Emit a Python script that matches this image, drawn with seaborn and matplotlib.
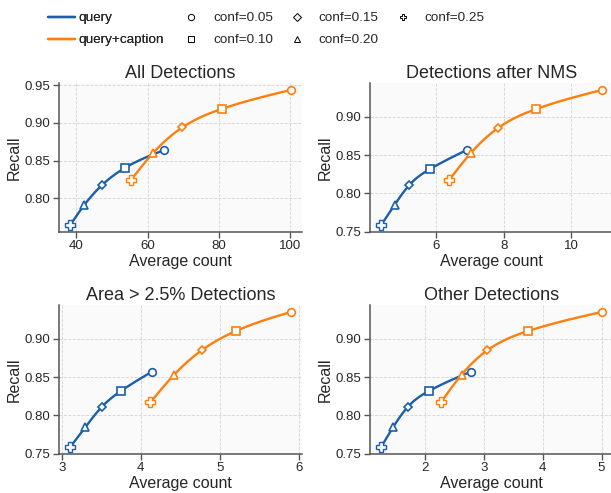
import numpy as np
import pandas as pd
import matplotlib
matplotlib.use("Agg")
import matplotlib.pyplot as plt
from matplotlib.lines import Line2D
import seaborn as sns

# confidence thresholds and their markers
conf = [0.05, 0.10, 0.15, 0.20, 0.25]
conf_markers = ["o", "s", "D", "^", "P"]

titles = ["All Detections", "Detections after NMS",
          "Area > 2.5% Detections", "Other Detections"]

# recall values (same order as conf)
all_q_recall = [0.864, 0.840, 0.818, 0.791, 0.764]
all_c_recall = [0.944, 0.919, 0.894, 0.860, 0.8235]
sub_q_recall = [0.857, 0.832, 0.811, 0.785, 0.7585]
sub_c_recall = [0.935, 0.910, 0.885, 0.853, 0.817]

# average counts
all_q_count = [64.7, 53.5, 47.3, 42.2, 38.2]
all_c_count = [100.3, 81.0, 69.7, 61.5, 55.2]
nms_q_count = [6.92, 5.82, 5.20, 4.76, 4.36]
nms_c_count = [10.92, 8.96, 7.82, 7.03, 6.37]
area_q_count = [4.14, 3.75, 3.505, 3.30, 3.105]
area_c_count = [5.90, 5.20, 4.77, 4.42, 4.12]
other_q_count = [2.78, 2.07, 1.706, 1.46, 1.253]
other_c_count = [5.01, 3.75, 3.06, 2.62, 2.27]

panels = [
    (all_q_count, all_q_recall, all_c_count, all_c_recall),
    (nms_q_count, sub_q_recall, nms_c_count, sub_c_recall),
    (area_q_count, sub_q_recall, area_c_count, sub_c_recall),
    (other_q_count, sub_q_recall, other_c_count, sub_c_recall),
]

blue = "#1b5fa8"
orange = "#ff7f0e"


def smooth(x, y, n=200):
    # natural cubic spline through the points, only for drawing the curve
    order = np.argsort(x)
    x = np.asarray(x, float)[order]
    y = np.asarray(y, float)[order]
    k = len(x)
    h = np.diff(x)
    A = np.zeros((k, k))
    b = np.zeros(k)
    A[0, 0] = A[-1, -1] = 1
    for i in range(1, k - 1):
        A[i, i - 1] = h[i - 1]
        A[i, i] = 2 * (h[i - 1] + h[i])
        A[i, i + 1] = h[i]
        b[i] = 6 * ((y[i + 1] - y[i]) / h[i] - (y[i] - y[i - 1]) / h[i - 1])
    M = np.linalg.solve(A, b)
    xs = np.linspace(x[0], x[-1], n)
    j = np.clip(np.searchsorted(x, xs) - 1, 0, k - 2)
    t0 = x[j + 1] - xs
    t1 = xs - x[j]
    hj = h[j]
    ys = (M[j] * t0 ** 3 + M[j + 1] * t1 ** 3) / (6 * hj) \
        + (y[j] / hj - M[j] * hj / 6) * t0 + (y[j + 1] / hj - M[j + 1] * hj / 6) * t1
    return xs, ys


sns.set_theme(style="whitegrid")
plt.rcParams["font.family"] = ["Liberation Sans", "DejaVu Sans"]
plt.rcParams["axes.facecolor"] = "#fafafa"

fig = plt.figure(figsize=(6.11, 4.93), dpi=100)
w, hgt = 0.398, 0.302
rects = [(0.0966, 0.5294, w, hgt), (0.6056, 0.5294, w, hgt),
         (0.0966, 0.0791, w, hgt), (0.6056, 0.0791, w, hgt)]

msizes = {"o": 5.5, "s": 5.5, "D": 4.5, "^": 5.5, "P": 7}

for rect, title, (qx, qy, cx, cy) in zip(rects, titles, panels):
    ax = fig.add_axes(rect)
    for xs_, ys_, col, name in [(qx, qy, blue, "query"), (cx, cy, orange, "query+caption")]:
        sx, sy = smooth(xs_, ys_)
        df = pd.DataFrame({"x": sx, "y": sy})
        sns.lineplot(data=df, x="x", y="y", ax=ax, color=col, lw=1.7, zorder=2)
        for xv, yv, m in zip(xs_, ys_, conf_markers):
            ax.plot(xv, yv, marker=m, ms=msizes[m], mfc="white",
                    mec=col, mew=1.0 if m == "P" else 1.2, ls="none", zorder=3)
    ax.set_title(title, fontsize=13, pad=4)
    ax.set_xlabel("Average count", fontsize=11.5, labelpad=1)
    ax.set_ylabel("Recall", fontsize=11.5, labelpad=2)
    ax.tick_params(labelsize=9.5, length=4, width=1, color="#555555",
                   direction="out", pad=2, left=True, bottom=True)
    ax.grid(True, ls="--", lw=0.6, color="#d4d4d4")
    for s in ["top", "right"]:
        ax.spines[s].set_visible(False)
    for s in ["left", "bottom"]:
        ax.spines[s].set_color("#555555")
        ax.spines[s].set_linewidth(1.1)
    ax.margins(x=0.05, y=0.05)
    ax.yaxis.set_major_formatter(matplotlib.ticker.FormatStrFormatter("%.2f"))

line_handles = [Line2D([], [], color=blue, lw=1.7, label="query"),
                Line2D([], [], color=orange, lw=1.7, label="query+caption")]
marker_handles = []
for c, m in zip(conf, conf_markers):
    marker_handles.append(Line2D([], [], color="black", marker=m, ms=4.5, mfc="white",
                                 mew=0.7, ls="none", label=f"conf={c:.2f}"))

leg1 = fig.legend(handles=line_handles, loc="upper left", bbox_to_anchor=(0.0699, 0.9866),
                  frameon=False, fontsize=9.7, handletextpad=0.25, labelspacing=0.7,
                  borderaxespad=0)
fig.add_artist(leg1)
fig.legend(handles=marker_handles, loc="upper left", bbox_to_anchor=(0.2823, 0.9866), ncol=3,
           frameon=False, fontsize=9.7, columnspacing=0.8, handletextpad=0.6,
           labelspacing=0.7, borderaxespad=0)

fig.savefig("out.png", dpi=100)
